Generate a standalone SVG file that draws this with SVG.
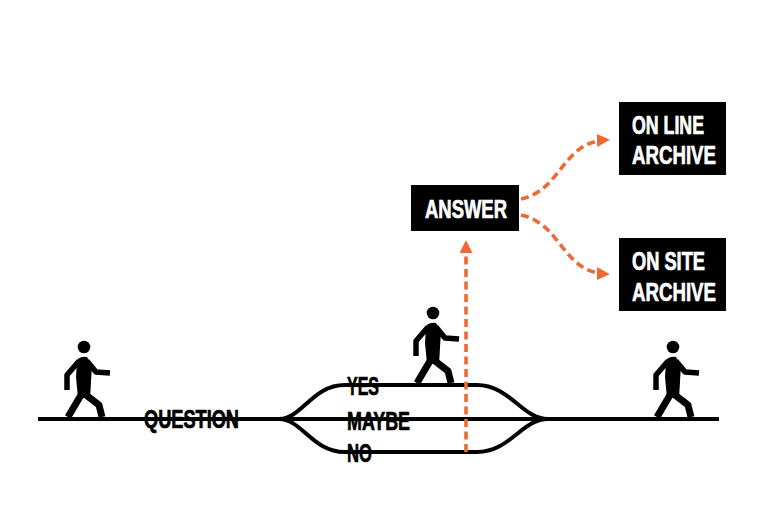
<svg xmlns="http://www.w3.org/2000/svg" width="768" height="518" viewBox="0 0 768 518">
<defs>
<style>
.track{fill:none;stroke:#000;stroke-width:4}
.dash{fill:none;stroke:#EE6A35;stroke-width:3.6;stroke-dasharray:8 4.5}
.lbl{font-family:"Liberation Sans Narrow","Liberation Sans",Arial,sans-serif;font-weight:bold;font-size:25px;fill:#000;stroke:#000;stroke-width:0.7}
.wlbl{font-family:"Liberation Sans Narrow","Liberation Sans",Arial,sans-serif;font-weight:bold;font-size:25px;fill:#fff;stroke:#fff;stroke-width:0.7}
.box{fill:#000}
.limb{fill:none;stroke:#000;stroke-linejoin:round;stroke-linecap:butt}
</style>
<marker id="ah" viewBox="0 0 10 10" refX="7" refY="5" markerWidth="13" markerHeight="13" orient="auto" markerUnits="userSpaceOnUse">
<path d="M0,0 L10,5 L0,10 Z" fill="#EE6A35"/>
</marker>
<g id="walker">
<circle cx="0" cy="0" r="6.3" fill="#000"/>
<path fill="#000" d="M-7,13 Q-3,9 3,10 L8,18 L6,51 L-6,51 L-8,30 Z"/>
<path class="limb" stroke-width="5.5" d="M-5,14 L-17,28 L-17,43"/>
<path class="limb" stroke-width="5.5" d="M3,14 L12,25 L26,26"/>
<path class="limb" stroke-width="7" d="M-3,48 L-16,70"/>
<path class="limb" stroke-width="7" d="M2,48 L15,58 L18,70"/>
</g>
</defs>
<rect width="768" height="518" fill="#fff"/>
<g id="connectors">
<path class="track" d="M38,419 L719,419"/>
<path class="track" stroke-width="3.6" d="M279,419 C302,419 312,385 345,385 L477,385 C510,385 522,419 548,419"/>
<path class="track" stroke-width="3.6" d="M279,419 C302,419 312,452 345,452 L477,452 C510,452 522,419 548,419"/>
<path class="dash" d="M466,452 L466,244" marker-end="url(#ah)"/>
<path class="dash" d="M521,199 C562,190 562,142 606,140" marker-end="url(#ah)"/>
<path class="dash" d="M521,215 C562,224 562,272 606,274" marker-end="url(#ah)"/>
</g>
<g id="walker-left"><use href="#walker" x="84" y="347"/></g>
<g id="walker-middle"><use href="#walker" x="433" y="313"/></g>
<g id="walker-right"><use href="#walker" x="673" y="347"/></g>
<g id="question"><text class="lbl" x="144" y="428" textLength="95" lengthAdjust="spacingAndGlyphs">QUESTION</text></g>
<g id="yes"><text class="lbl" x="347" y="395" textLength="32" lengthAdjust="spacingAndGlyphs">YES</text></g>
<g id="maybe"><text class="lbl" x="347" y="430" textLength="63" lengthAdjust="spacingAndGlyphs">MAYBE</text></g>
<g id="no"><text class="lbl" x="347" y="462" textLength="25" lengthAdjust="spacingAndGlyphs">NO</text></g>
<g id="answer">
<rect class="box" x="411" y="185" width="108" height="46"/>
<text class="wlbl" x="425" y="218" textLength="82" lengthAdjust="spacingAndGlyphs">ANSWER</text>
</g>
<g id="online-archive">
<rect class="box" x="619" y="102" width="107" height="73"/>
<text class="wlbl" x="632" y="134" textLength="72" lengthAdjust="spacingAndGlyphs">ON LINE</text>
<text class="wlbl" x="632" y="164" textLength="84" lengthAdjust="spacingAndGlyphs">ARCHIVE</text>
</g>
<g id="onsite-archive">
<rect class="box" x="619" y="238" width="107" height="73"/>
<text class="wlbl" x="632" y="270" textLength="73" lengthAdjust="spacingAndGlyphs">ON SITE</text>
<text class="wlbl" x="632" y="301" textLength="84" lengthAdjust="spacingAndGlyphs">ARCHIVE</text>
</g>
</svg>
